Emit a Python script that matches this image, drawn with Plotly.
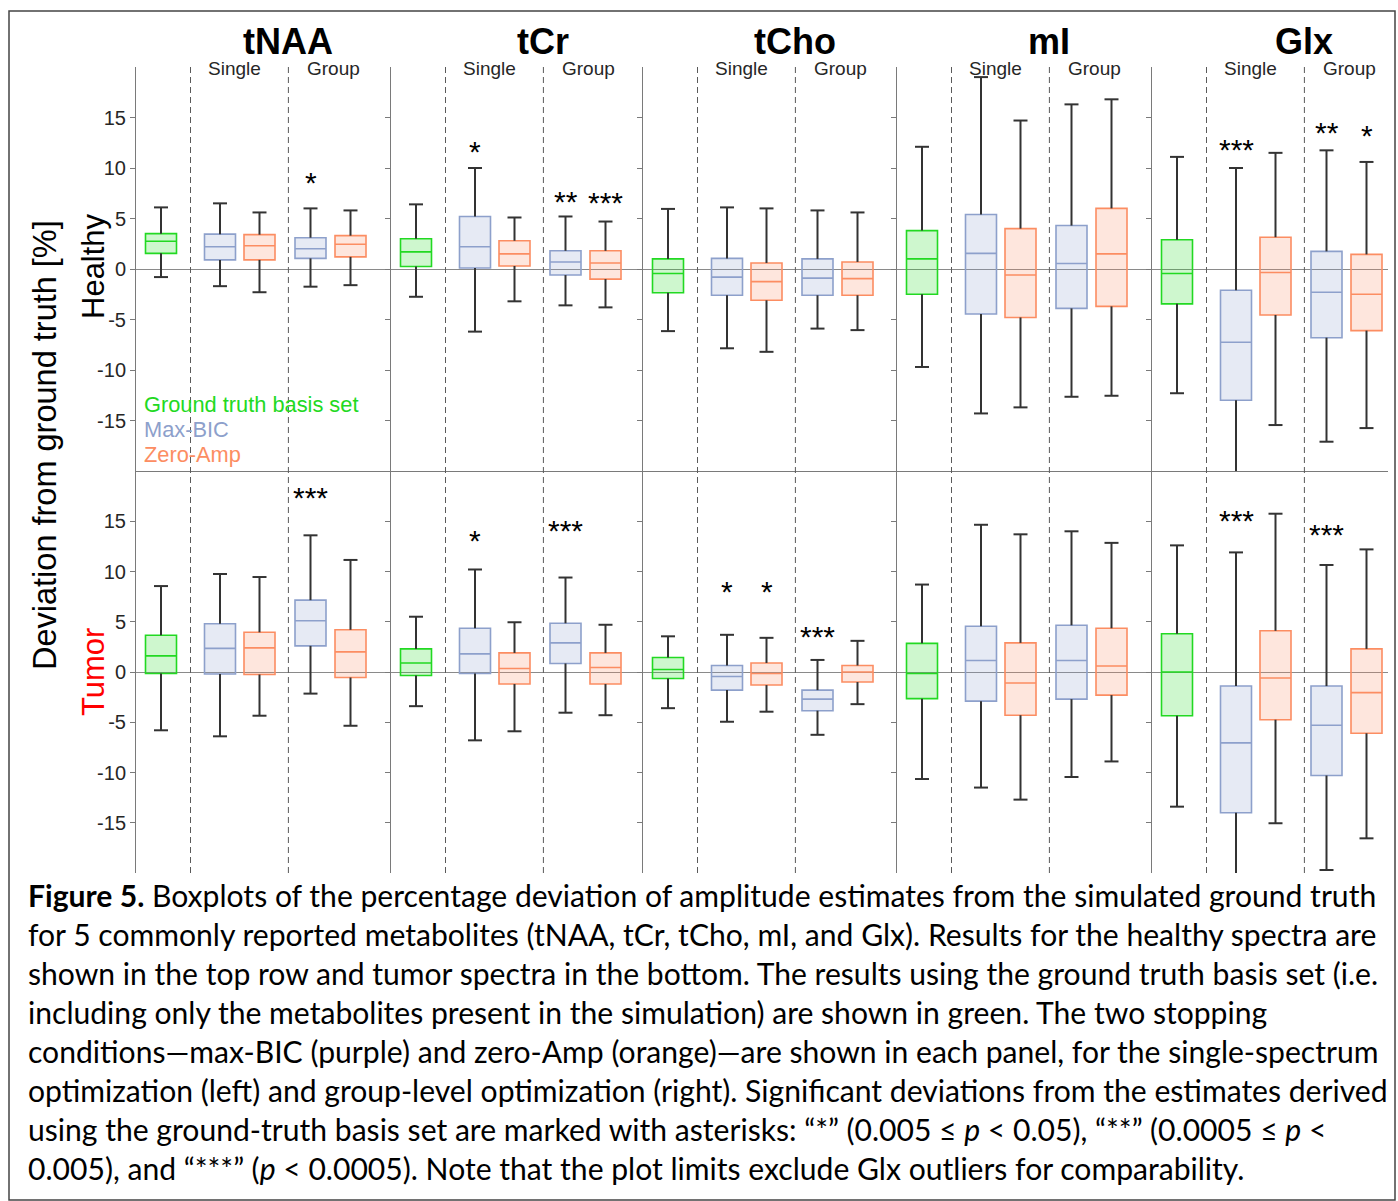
import plotly.graph_objects as go

# ---------------- data ----------------
metabolites = ["tNAA", "tCr", "tCho", "mI", "Glx"]
methods = ["Ground truth", "Max-BIC single", "Zero-Amp single", "Max-BIC group", "Zero-Amp group"]

# Healthy row: per metabolite, per method
healthy_upper = [[6.1, 6.5, 5.6, 6.0, 5.8], [6.4, 10.0, 5.1, 5.2, 4.7], [5.95, 6.1, 6.0, 5.8, 5.6],
                 [12.1, 19.0, 14.7, 16.3, 16.8], [11.1, 10.0, 11.5, 11.75, 10.6]]
healthy_q3 = [[3.5, 3.45, 3.4, 3.1, 3.3], [3.0, 5.2, 2.8, 1.8, 1.8], [1.0, 1.05, 0.6, 1.0, 0.7],
              [3.8, 5.4, 4.0, 4.3, 6.0], [2.9, -2.1, 3.15, 1.75, 1.45]]
healthy_median = [[2.75, 2.2, 2.3, 2.0, 2.45], [1.7, 2.2, 1.5, 0.7, 0.6], [-0.45, -0.8, -1.25, -0.9, -0.95],
                  [1.0, 1.55, -0.6, 0.55, 1.5], [-0.45, -7.25, -0.35, -2.3, -2.5]]
healthy_q1 = [[1.55, 0.9, 0.9, 1.05, 1.2], [0.25, 0.1, 0.3, -0.6, -1.0], [-2.35, -2.6, -3.1, -2.6, -2.6],
              [-2.5, -4.45, -4.8, -3.9, -3.7], [-3.45, -13.0, -4.55, -6.8, -6.1]]
healthy_lower = [[-0.8, -1.7, -2.3, -1.75, -1.6], [-2.75, -6.2, -3.2, -3.6, -3.8], [-6.15, -7.85, -8.2, -5.9, -6.05],
                 [-9.7, -14.3, -13.7, -12.65, -12.55], [-12.3, -22.0, -15.45, -17.1, -15.75]]

# Tumor row
tumor_upper = [[8.55, 9.75, 9.45, 13.6, 11.15], [5.5, 10.2, 4.95, 9.4, 4.7], [3.55, 3.7, 3.4, 1.2, 3.1],
               [8.7, 14.65, 13.7, 14.0, 12.85], [12.6, 11.9, 15.75, 10.65, 12.2]]
tumor_q3 = [[3.65, 4.8, 3.95, 7.15, 4.2], [2.3, 4.35, 1.9, 4.85, 1.9], [1.45, 0.65, 0.9, -1.8, 0.65],
            [2.85, 4.55, 2.9, 4.65, 4.35], [3.8, -1.4, 4.1, -1.4, 2.3]]
tumor_median = [[1.6, 2.35, 2.4, 5.1, 2.0], [0.9, 1.8, 0.35, 2.9, 0.45], [0.25, -0.45, -0.15, -2.7, 0.0],
                [-0.15, 1.15, -1.1, 1.15, 0.6], [0.0, -7.05, -0.6, -5.3, -2.05]]
tumor_q1 = [[-0.15, -0.2, -0.25, 2.6, -0.55], [-0.35, -0.15, -1.2, 0.85, -1.2], [-0.65, -1.8, -1.3, -3.85, -1.0],
            [-2.65, -2.9, -4.3, -2.7, -2.3], [-4.35, -14.0, -4.75, -10.3, -6.1]]
tumor_lower = [[-5.8, -6.4, -4.35, -2.15, -5.35], [-3.4, -6.8, -5.9, -4.05, -4.3], [-3.6, -4.95, -3.95, -6.25, -3.2],
               [-10.65, -11.5, -12.7, -10.45, -8.9], [-13.4, -22.0, -15.05, -19.7, -16.55]]

# significance markers: (row, metabolite index, method index, label, y value)
sig_row = [0, 0, 0, 0, 0, 0, 0, 1, 1, 1, 1, 1, 1, 1, 1]
sig_met = [0, 1, 1, 1, 4, 4, 4, 0, 1, 1, 2, 2, 2, 4, 4]
sig_meth = [3, 1, 3, 4, 1, 3, 4, 3, 1, 3, 1, 2, 3, 1, 3]
sig_label = ["*", "*", "**", "***", "***", "**", "*", "***", "*", "***", "*", "*", "***", "***", "***"]
sig_y = [9.0, 12.0, 7.1, 6.95, 12.2, 13.9, 13.6, 17.8, 13.5, 14.5, 8.45, 8.45, 3.95, 15.5, 14.1]

yticks = [-15, -10, -5, 0, 5, 10, 15]
ytick_text = ["-15", "-10", "-5", "0", "5", "10", "15"]
row_labels = ["Healthy", "Tumor"]
legend_labels = ["Ground truth basis set", "Max-BIC", "Zero-Amp"]

caption_lines = [
    "<b>Figure 5.</b> Boxplots of the percentage deviation of amplitude estimates from the simulated ground truth",
    "for 5 commonly reported metabolites (tNAA, tCr, tCho, mI, and Glx). Results for the healthy spectra are",
    "shown in the top row and tumor spectra in the bottom. The results using the ground truth basis set (i.e.",
    "including only the metabolites present in the simulation) are shown in green. The two stopping",
    "conditions\u2014max-BIC (purple) and zero-Amp (orange)\u2014are shown in each panel, for the single-spectrum",
    "optimization (left) and group-level optimization (right). Significant deviations from the estimates derived",
    "using the ground-truth basis set are marked with asterisks: \u201c*\u201d (0.005 \u2264 <i>p</i> &lt; 0.05), \u201c**\u201d (0.0005 \u2264 <i>p</i> &lt;",
    "0.005), and \u201c***\u201d (<i>p</i> &lt; 0.0005). Note that the plot limits exclude Glx outliers for comparability.",
]

# ---------------- styles / layout constants ----------------
W, H = 1398, 1201
COL_X0 = [136, 391, 643, 897, 1152]
COL_X1 = [391, 643, 897, 1152, 1388]
ROW_Y = [(67, 471), (471, 873)]          # pixel top/bottom of each row
BOX_OFF = [25, 84, 123.5, 174.5, 214.5]  # box centres within a panel (px)
DASH_OFF = [54.5, 152.4]
SINGLE_OFF, GROUP_OFF, TITLE_OFF = 98.5, 197, 152
BOX_W = 31
CAP = 7

GREEN, BLUE, ORANGE = "#22d922", "#8da0cb", "#fc8d62"
LINE_COL = [GREEN, BLUE, ORANGE, BLUE, ORANGE]
FILL_COL = ["rgba(34,217,34,0.22)", "rgba(141,160,203,0.22)", "rgba(252,141,98,0.22)",
            "rgba(141,160,203,0.22)", "rgba(252,141,98,0.22)"]
AX_COL = "#7a7a7a"
FONT = "Liberation Sans, Arial, sans-serif"


def py(px):
    return 1 - px / H


fig = go.Figure()
layout = dict(width=W, height=H, margin=dict(l=0, r=0, t=0, b=0),
              paper_bgcolor="white", plot_bgcolor="rgba(0,0,0,0)", showlegend=False)
annotations, shapes = [], []

rows = [
    (healthy_lower, healthy_q1, healthy_median, healthy_q3, healthy_upper),
    (tumor_lower, tumor_q1, tumor_median, tumor_q3, tumor_upper),
]

for r in range(2):
    lo_a, q1_a, med_a, q3_a, up_a = rows[r]
    for c in range(5):
        idx = r * 5 + c + 1
        sx = "" if idx == 1 else str(idx)
        xname, yname = "x" + sx, "y" + sx
        width_px = COL_X1[c] - COL_X0[c]
        layout["xaxis" + sx] = dict(
            domain=[COL_X0[c] / W, COL_X1[c] / W], range=[0, width_px], anchor=yname,
            showgrid=False, zeroline=False, showticklabels=False, ticks="",
            showline=(r == 0), linecolor=AX_COL, linewidth=1, fixedrange=True)
        layout["yaxis" + sx] = dict(
            domain=[py(ROW_Y[r][1]), py(ROW_Y[r][0])], range=[-20, 20], anchor=xname,
            showgrid=False, zeroline=True, zerolinecolor="#8a8a8a", zerolinewidth=1,
            showline=True, linecolor=AX_COL, linewidth=1,
            ticks="outside", ticklen=5, tickcolor=AX_COL, tickwidth=1,
            tickvals=yticks, ticktext=ytick_text, showticklabels=(c == 0),
            tickfont=dict(family=FONT, size=20, color="#262626"), ticklabelstandoff=0,
            fixedrange=True)

        wx, wy = [], []
        for m in range(5):
            pos = BOX_OFF[m]
            lo, q1, med, q3, up = lo_a[c][m], q1_a[c][m], med_a[c][m], q3_a[c][m], up_a[c][m]
            fig.add_trace(go.Box(
                x=[pos], q1=[q1], median=[med], q3=[q3], lowerfence=[q1], upperfence=[q3],
                width=BOX_W, whiskerwidth=0, fillcolor=FILL_COL[m],
                line=dict(color=LINE_COL[m], width=1.6), boxpoints=False,
                xaxis=xname, yaxis=yname, hoverinfo="skip"))
            wx += [pos, pos, None, pos, pos, None, pos - CAP, pos + CAP, None, pos - CAP, pos + CAP, None]
            wy += [q3, up, None, q1, lo, None, up, up, None, lo, lo, None]
        fig.add_trace(go.Scatter(x=wx, y=wy, mode="lines", line=dict(color="#333333", width=2),
                                 xaxis=xname, yaxis=yname, hoverinfo="skip"))

# dashed separators (span both rows)
for c in range(5):
    for d in DASH_OFF:
        shapes.append(dict(type="line", xref="x" + ("" if c == 0 else str(c + 1)), yref="paper",
                           x0=d, x1=d, y0=py(ROW_Y[1][1]), y1=py(ROW_Y[0][0]),
                           line=dict(color="#5a5a5a", width=1, dash="6px,4px")))

# titles and sub-labels
for c in range(5):
    xr = "x" + ("" if c == 0 else str(c + 1))
    annotations.append(dict(text="<b>%s</b>" % metabolites[c], xref=xr, yref="paper", x=TITLE_OFF,
                            y=py(41), xanchor="center", yanchor="middle", showarrow=False,
                            font=dict(family=FONT, size=36, color="black")))
    for off, lab in ((SINGLE_OFF, "Single"), (GROUP_OFF, "Group")):
        annotations.append(dict(text=lab, xref=xr, yref="paper", x=off, y=py(68),
                                xanchor="center", yanchor="middle", showarrow=False,
                                font=dict(family=FONT, size=19, color="#262626")))

# significance asterisks
for i in range(len(sig_y)):
    idx = sig_row[i] * 5 + sig_met[i] + 1
    sx = "" if idx == 1 else str(idx)
    annotations.append(dict(text=sig_label[i], xref="x" + sx, yref="y" + sx,
                            x=BOX_OFF[sig_meth[i]], y=sig_y[i], yshift=-4, xanchor="center",
                            yanchor="middle", showarrow=False,
                            font=dict(family=FONT, size=30, color="black")))

# axis titles
annotations.append(dict(text="Deviation from ground truth [%]", xref="paper", yref="paper",
                        x=45 / W, y=py(445), textangle=-90, xanchor="center", yanchor="middle",
                        showarrow=False, font=dict(family=FONT, size=32.5, color="black")))
for r, (lab, col, yc) in enumerate(((row_labels[0], "black", 266), (row_labels[1], "#ff0000", 672))):
    annotations.append(dict(text=lab, xref="paper", yref="paper", x=93 / W, y=py(yc), textangle=-90,
                            xanchor="center", yanchor="middle", showarrow=False,
                            font=dict(family=FONT, size=31, color=col)))

# legend text
for lab, col, yc in zip(legend_labels, [GREEN, BLUE, ORANGE], [405, 429, 454]):
    annotations.append(dict(text=lab, xref="paper", yref="paper", x=142 / W, y=py(yc),
                            xanchor="left", yanchor="middle", showarrow=False,
                            font=dict(family=FONT, size=21.8, color=col)))

# caption
for i, line in enumerate(caption_lines):
    annotations.append(dict(text=line, xref="paper", yref="paper", x=26 / W, y=py(895 + 39 * i),
                            xanchor="left", yanchor="middle", showarrow=False,
                            font=dict(family="Lato, sans-serif", size=30.1, color="black")))

# outer frame
shapes.append(dict(type="rect", xref="paper", yref="paper", x0=9 / W, x1=1395 / W, y0=py(1200), y1=py(11),
                   line=dict(color="#444444", width=1.5), fillcolor="rgba(0,0,0,0)"))

layout["annotations"] = annotations
layout["shapes"] = shapes
fig.update_layout(**layout)
fig.write_html("out.html", config={"displayModeBar": False})
